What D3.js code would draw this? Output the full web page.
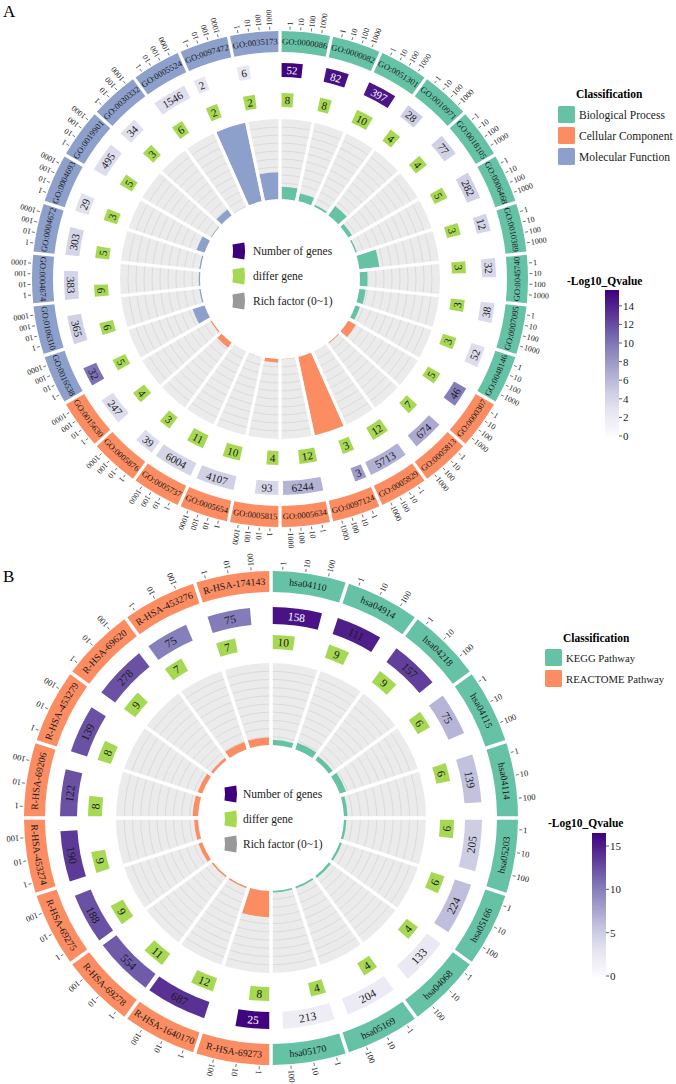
<!DOCTYPE html>
<html><head><meta charset="utf-8">
<script src="https://cdn.jsdelivr.net/npm/d3@7"></script>
<style>body{margin:0;background:#fff;} text{font-family:'Liberation Serif','Tinos','Times New Roman','DejaVu Serif',serif;}</style>
</head><body><svg id="c" width="676" height="1084" font-family="Liberation Serif, Times New Roman, serif"></svg>
<script>
// ---------- Panel A data (GO) ----------
const goIds = ["GO:0000086","GO:0000082","GO:0051301","GO:0010971","GO:0018105","GO:0006468","GO:0010389","GO:0045740","GO:0007095","GO:0048146",
  "GO:0000307","GO:0005813","GO:0005829","GO:0097124","GO:0005634","GO:0005815","GO:0005654","GO:0005737","GO:0005876","GO:0015630",
  "GO:0016538","GO:0106310","GO:0004674","GO:0004672","GO:0004693","GO:0019901","GO:0030332","GO:0005524","GO:0097472","GO:0035173"];
const goClass = ["Biological Process","Biological Process","Biological Process","Biological Process","Biological Process","Biological Process","Biological Process","Biological Process","Biological Process","Biological Process",
  "Cellular Component","Cellular Component","Cellular Component","Cellular Component","Cellular Component","Cellular Component","Cellular Component","Cellular Component","Cellular Component","Cellular Component",
  "Molecular Function","Molecular Function","Molecular Function","Molecular Function","Molecular Function","Molecular Function","Molecular Function","Molecular Function","Molecular Function","Molecular Function"];
const goNumGenes = [52,82,397,28,77,282,12,32,38,52,46,674,5713,3,6244,93,4107,6004,39,247,32,365,383,303,29,495,34,1546,2,6];
const goDiffer = [8,8,10,4,4,5,3,3,3,3,5,7,12,3,12,4,10,11,3,4,5,6,6,5,3,5,3,6,2,2];
const goRich = [0.154,0.098,0.025,0.143,0.052,0.018,0.25,0.094,0.079,0.058,0.109,0.0104,0.0021,1.0,0.0019,0.043,0.0024,0.0018,0.077,0.016,
  0.156,0.016,0.016,0.0165,0.103,0.0101,0.088,0.0039,1.0,0.333];
const goQ = [15.5,14.9,14.6,4.8,4.5,4.5,4.3,4.0,3.8,3.5,9.7,7.0,6.6,7.8,6.4,4.0,4.5,4.2,3.5,3.6,10.2,4.5,4.3,4.2,3.2,3.5,3.2,3.3,2.8,2.5];
const goClassNames = ["Biological Process","Cellular Component","Molecular Function"];
const goTicks = [1,10,100,1000];
const goCbTicks = [0,2,4,6,8,10,12,14];

// ---------- Panel B data (pathways) ----------
const pwIds = ["hsa04110","hsa04914","hsa04218","hsa04115","hsa04114","hsa05203","hsa05166","hsa04068","hsa05169","hsa05170",
  "R-HSA-69273","R-HSA-1640170","R-HSA-69278","R-HSA-69275","R-HSA-453274","R-HSA-69206","R-HSA-453279","R-HSA-69620","R-HSA-453276","R-HSA-174143"];
const pwClass = ["KEGG Pathway","KEGG Pathway","KEGG Pathway","KEGG Pathway","KEGG Pathway","KEGG Pathway","KEGG Pathway","KEGG Pathway","KEGG Pathway","KEGG Pathway",
  "REACTOME Pathway","REACTOME Pathway","REACTOME Pathway","REACTOME Pathway","REACTOME Pathway","REACTOME Pathway","REACTOME Pathway","REACTOME Pathway","REACTOME Pathway","REACTOME Pathway"];
const pwNumGenes = [158,111,157,75,139,205,224,133,204,213,25,687,554,188,190,122,139,278,75,75];
const pwDiffer = [10,9,9,6,6,6,6,4,4,4,8,12,11,9,9,8,8,9,7,7];
const pwRich = [0.063,0.081,0.057,0.080,0.043,0.029,0.027,0.030,0.020,0.019,0.320,0.017,0.020,0.048,0.047,0.066,0.058,0.032,0.093,0.093];
const pwQ = [15.5,14.9,13.2,6.6,5.8,5.0,6.0,2.5,2.3,2.0,16.3,14.0,11.9,12.4,13.5,12.4,12.4,12.4,10.0,10.2];
const pwClassNames = ["KEGG Pathway","REACTOME Pathway"];
const pwTicks = [1,10,100];
const pwCbTicks = [0,5,10,15];

const FONT = "Liberation Serif, Times New Roman, serif";
const classColors = ["#66c2a5","#fc8d62","#8da0cb"];
const svg = d3.select("#c");
const rad = d => d * Math.PI / 180;

function drawChart(o) {
  const n = o.ids.length, sw = 360 / n;
  const g = svg.append("g").attr("transform", `translate(${o.cx},${o.cy})`).attr("font-family", FONT);
  const defs = g.append("defs");
  const P = (r, a) => [r * Math.sin(rad(a)), -r * Math.cos(rad(a))];
  const pos = d3.scaleLog().domain(o.tickDom).range(o.tickRng);
  const col = d3.scaleOrdinal().domain(o.classNames).range(classColors);
  const qc = d3.scaleSequential(d3.interpolatePurples).domain([0, o.qMax]);
  const arc = d3.arc().padRadius(100).padAngle(o.pad);
  const rr = d3.scaleLinear().domain([0, 1]).range([o.rIn, o.rGray]);
  const starts = o.ids.map((d, i) => i * sw);
  const flipOf = a => { const m = ((a % 360) + 360) % 360; return m >= 90 && m <= 270; };

  g.append("path").attr("d", d3.arc()({innerRadius: o.rIn, outerRadius: o.rGray, startAngle: 0, endAngle: 2 * Math.PI}))
    .attr("fill", "#ebebeb");
  g.selectAll("circle.grid").data(d3.range(1, 10).map(i => i / 10)).join("circle")
    .attr("r", d => rr(d)).attr("fill", "none").attr("stroke", "#d3d3d3").attr("stroke-width", 0.7);
  g.selectAll("path.bar").data(o.rich).join("path")
    .attr("d", (v, i) => arc({innerRadius: o.rIn, outerRadius: rr(Math.min(v, 1)), startAngle: rad(starts[i]), endAngle: rad(starts[i] + sw)}))
    .attr("fill", (v, i) => col(o.cls[i]));
  g.selectAll("line.sep").data(starts).join("line")
    .attr("x1", a => P(o.rIn - 1, a)[0]).attr("y1", a => P(o.rIn - 1, a)[1])
    .attr("x2", a => P(o.rGray + 1, a)[0]).attr("y2", a => P(o.rGray + 1, a)[1])
    .attr("stroke", "#fff").attr("stroke-width", o.pad * 100);

  g.selectAll("path.ring").data(o.ids).join("path")
    .attr("d", (d, i) => arc({innerRadius: o.rRingIn, outerRadius: o.rRingOut, startAngle: rad(starts[i]), endAngle: rad(starts[i] + sw)}))
    .attr("fill", (d, i) => col(o.cls[i]));
  const rm = (o.rRingIn + o.rRingOut) / 2;
  o.ids.forEach((id, i) => {
    const a0 = starts[i], a1 = a0 + sw, mid = a0 + sw / 2;
    const flip = flipOf(mid);
    const r = flip ? rm + o.labelFs * 0.33 : rm - o.labelFs * 0.33;
    const [x0, y0] = P(r, a0), [x1, y1] = P(r, a1);
    const d = flip ? `M${x1},${y1}A${r},${r} 0 0 0 ${x0},${y0}` : `M${x0},${y0}A${r},${r} 0 0 1 ${x1},${y1}`;
    const pid = o.key + "lab" + i;
    defs.append("path").attr("id", pid).attr("d", d);
    g.append("text").attr("font-size", o.labelFs).attr("fill", "#1a1a1a")
      .append("textPath").attr("href", "#" + pid).attr("startOffset", "50%").attr("text-anchor", "middle").text(id);
    o.ticks.forEach(t => {
      const a = a0 + pos(t);
      const [tx1, ty1] = P(o.rRingOut + 1.5, a), [tx2, ty2] = P(o.rRingOut + 4.5, a), [lx, ly] = P(o.rRingOut + 5.5, a);
      g.append("line").attr("x1", tx1).attr("y1", ty1).attr("x2", tx2).attr("y2", ty2).attr("stroke", "#333").attr("stroke-width", 0.7);
      g.append("text").attr("transform", `translate(${lx},${ly}) rotate(${a - 90})`)
        .attr("font-size", o.tickFs).attr("dominant-baseline", "central").attr("fill", "#1a1a1a").text(t);
    });
  });

  function boxTrack(vals, rIn, rOut, fillFn, textFn, fs) {
    const rMid = (rIn + rOut) / 2;
    vals.forEach((v, i) => {
      const minDeg = ((String(v).length * 0.5 * fs + 6 + o.pad * 100) / rMid) * 180 / Math.PI;
      const a0 = starts[i], a1 = a0 + Math.min(Math.max(pos(v), minDeg), sw - 0.3);
      g.append("path").attr("d", arc({innerRadius: rIn, outerRadius: rOut, startAngle: rad(a0), endAngle: rad(a1)}))
        .attr("fill", fillFn(i));
      const am = (a0 + a1) / 2, [x, y] = P(rMid, am);
      const rot = flipOf(am) ? am + 180 : am;
      g.append("text").attr("transform", `translate(${x},${y}) rotate(${rot})`)
        .attr("text-anchor", "middle").attr("dominant-baseline", "central")
        .attr("font-size", fs).attr("fill", textFn(i)).text(v);
    });
  }
  boxTrack(o.num, o.rNumIn, o.rNumOut, i => qc(o.q[i]), i => (o.q[i] / o.qMax > 0.92 ? "#fff" : "#1a1a1a"), o.numFs);
  boxTrack(o.differ, o.rDifIn, o.rDifOut, i => "#a6d854", i => "#1a1a1a", o.numFs);

  const items = [["Number of genes", "#3f007d"], ["differ gene", "#a6d854"], ["Rich factor (0~1)", "#999999"]];
  const iconArc = d3.arc()({innerRadius: 38, outerRadius: 50, startAngle: Math.PI / 2 - 0.17, endAngle: Math.PI / 2 + 0.17});
  items.forEach((it, k) => {
    const y = o.legY[k];
    g.append("path").attr("transform", `translate(${o.legIconX - 38},${y})`).attr("d", iconArc).attr("fill", it[1]);
    g.append("text").attr("x", o.legTextX).attr("y", y).attr("dominant-baseline", "central")
      .attr("font-size", 11.5).attr("fill", "#1a1a1a").text(it[0]);
  });
}

function drawLegends(o) {
  const col = d3.scaleOrdinal().domain(o.classNames).range(classColors);
  const lg = svg.append("g").attr("font-family", FONT);
  lg.append("text").attr("x", o.clsTitleX).attr("y", o.clsTitleY).attr("font-weight", "bold").attr("font-size", 11.5).text("Classification");
  o.classNames.forEach((c, k) => {
    const y = o.clsBoxY + k * o.clsStep;
    lg.append("rect").attr("x", o.clsBoxX).attr("y", y).attr("width", 17).attr("height", 17).attr("rx", 1.5).attr("fill", col(c));
    lg.append("text").attr("x", o.clsBoxX + 21).attr("y", y + 8.5).attr("dominant-baseline", "central").attr("font-size", o.clsFs).attr("fill", "#1a1a1a").text(c);
  });
  const gid = o.key + "grad";
  const grad = lg.append("defs").append("linearGradient").attr("id", gid).attr("x1", 0).attr("y1", 1).attr("x2", 0).attr("y2", 0);
  d3.range(0, 1.0001, 0.1).forEach(t => grad.append("stop").attr("offset", t).attr("stop-color", d3.interpolatePurples(t)));
  lg.append("text").attr("x", o.cbTitleX).attr("y", o.cbTitleY).attr("font-weight", "bold").attr("font-size", 11.5).text("-Log10_Qvalue");
  lg.append("rect").attr("x", o.cbX).attr("y", o.cbTop).attr("width", 14).attr("height", o.cbBottom - o.cbTop).attr("fill", `url(#${gid})`);
  const ys = d3.scaleLinear().domain([0, o.qMax]).range([o.cbBottom - 1, o.cbTop]);
  o.cbTicks.forEach(t => {
    lg.append("line").attr("x1", o.cbX + 14).attr("x2", o.cbX + 17).attr("y1", ys(t)).attr("y2", ys(t)).attr("stroke", "#333").attr("stroke-width", 0.8);
    lg.append("text").attr("x", o.cbX + 18).attr("y", ys(t)).attr("dominant-baseline", "central").attr("font-size", 11).attr("fill", "#1a1a1a").text(t);
  });
}

drawChart({key: "A", ids: goIds, cls: goClass, num: goNumGenes, differ: goDiffer, rich: goRich, q: goQ, qMax: 15.7,
  classNames: goClassNames, ticks: goTicks, tickDom: [1, 1000], tickRng: [2.3, 9.65],
  cx: 280, cy: 279, pad: 0.032, rIn: 80, rGray: 160, rRingIn: 227, rRingOut: 248,
  rNumIn: 202, rNumOut: 216, rDifIn: 172, rDifOut: 186, labelFs: 8.6, tickFs: 8, numFs: 11,
  legY: [-28, -3, 22], legIconX: -47, legTextX: -27});
drawChart({key: "B", ids: pwIds, cls: pwClass, num: pwNumGenes, differ: pwDiffer, rich: pwRich, q: pwQ, qMax: 16.5,
  classNames: pwClassNames, ticks: pwTicks, tickDom: [1, 100], tickRng: [2.7, 13.4],
  cx: 271, cy: 818, pad: 0.035, rIn: 73, rGray: 155, rRingIn: 226, rRingOut: 247,
  rNumIn: 194, rNumOut: 211, rDifIn: 169, rDifOut: 183, labelFs: 9.8, tickFs: 8.5, numFs: 11.5,
  legY: [-24, 1, 26], legIconX: -46, legTextX: -28});

drawLegends({key: "A", classNames: goClassNames, clsTitleX: 576, clsTitleY: 98, clsBoxX: 558, clsBoxY: 106, clsStep: 21, clsFs: 11.5,
  cbTitleX: 567, cbTitleY: 285, cbX: 605, cbTop: 290, cbBottom: 437, qMax: 15.7, cbTicks: goCbTicks});
drawLegends({key: "B", classNames: pwClassNames, clsTitleX: 563, clsTitleY: 642, clsBoxX: 545, clsBoxY: 649, clsStep: 21, clsFs: 10.7,
  cbTitleX: 548, cbTitleY: 827, cbX: 592, cbTop: 833, cbBottom: 977, qMax: 16.5, cbTicks: pwCbTicks});

svg.append("text").attr("x", 3).attr("y", 17).attr("font-size", 17).attr("font-family", FONT).text("A");
svg.append("text").attr("x", 3).attr("y", 582).attr("font-size", 17).attr("font-family", FONT).text("B");
</script></body></html>
